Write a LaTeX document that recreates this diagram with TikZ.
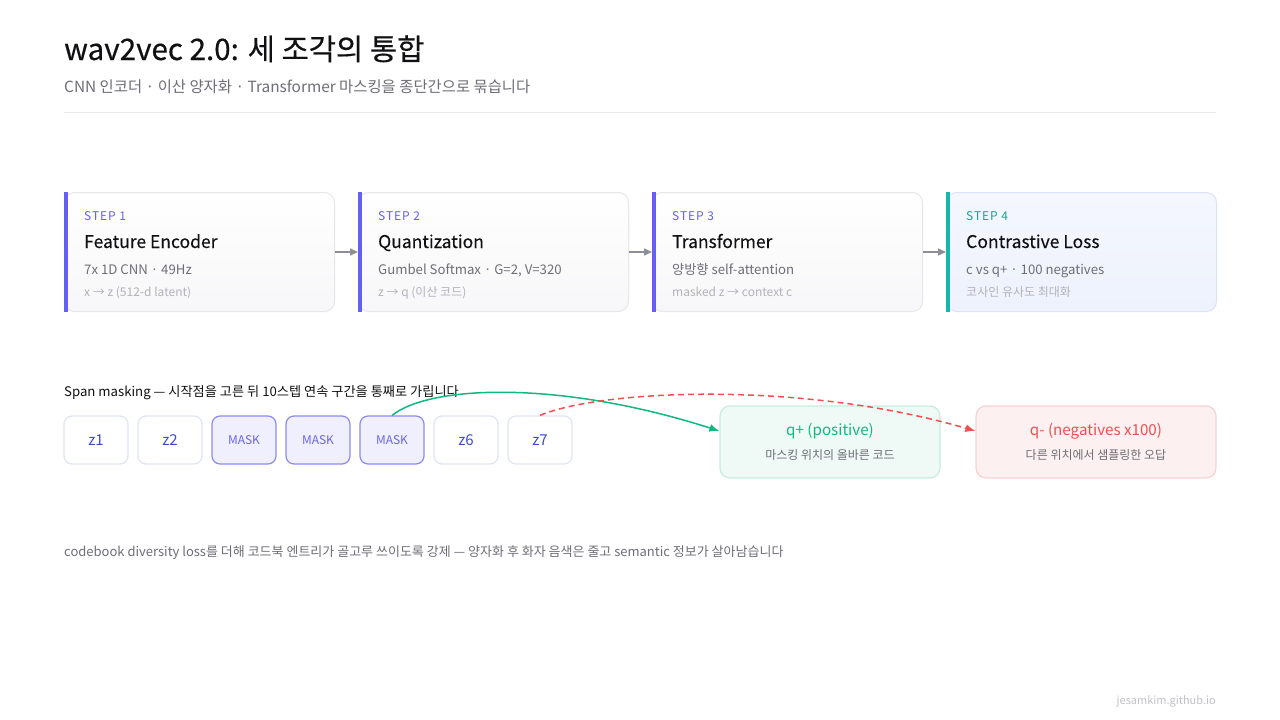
\documentclass[tikz,border=0pt]{standalone}
\usepackage{fontspec}
\setmainfont{Noto Sans CJK KR}
\usetikzlibrary{arrows.meta,calc,positioning}

\definecolor{ink}{HTML}{111114}
\definecolor{subgray}{HTML}{6E6E76}
\definecolor{faint}{HTML}{B2B2BA}
\definecolor{rulegray}{HTML}{EAEAEE}
\definecolor{cardline}{HTML}{E6E6EB}
\definecolor{cardbot}{HTML}{F7F7F9}
\definecolor{accent}{HTML}{6360F2}
\definecolor{tealbar}{HTML}{14B8A6}
\definecolor{tealtxt}{HTML}{16A394}
\definecolor{lossline}{HTML}{DCE2F8}
\definecolor{losstop}{HTML}{F4F7FE}
\definecolor{lossbot}{HTML}{EEF2FD}
\definecolor{flowgray}{HTML}{8E8E96}
\definecolor{tokline}{HTML}{E1E4F5}
\definecolor{tokblue}{HTML}{3B4BD3}
\definecolor{maskfill}{HTML}{F0EFFE}
\definecolor{maskline}{HTML}{8D8AF3}
\definecolor{masktxt}{HTML}{6A66E6}
\definecolor{posgreen}{HTML}{10B981}
\definecolor{posfill}{HTML}{EFFAF6}
\definecolor{posline}{HTML}{C8EDDD}
\definecolor{negred}{HTML}{EF5050}
\definecolor{negfill}{HTML}{FDF0F0}
\definecolor{negline}{HTML}{F6D3D3}

\newcommand{\fs}[1]{\fontsize{#1}{#1}\selectfont}

\begin{document}
\begin{tikzpicture}[x=1pt,y=-1pt,>=Latex,
  card/.style={draw=cardline,line width=1pt,rounded corners=10pt,top color=white,bottom color=cardbot,
    minimum width=270pt,minimum height=119pt,anchor=north west,inner sep=0pt},
  losscard/.style={card,draw=lossline,top color=losstop,bottom color=lossbot},
  bar/.style={line width=3.5pt,accent},
  tag/.style={anchor=base west,inner sep=0pt,text=accent,font=\fs{12}\addfontfeature{LetterSpace=8}},
  head/.style={anchor=base west,inner sep=0pt,text=ink,font=\fs{17.5}\addfontfeature{FakeBold=0.2}},
  detail/.style={anchor=base west,inner sep=0pt,text=subgray,font=\fs{13.2}},
  note/.style={anchor=base west,inner sep=0pt,text=faint,font=\fs{12}},
  flow/.style={->,flowgray,line width=1.5pt,>={Triangle[length=8pt,width=7pt]}},
  tok/.style={draw=tokline,fill=white,line width=1.2pt,rounded corners=8pt,minimum width=64pt,
    minimum height=48pt,inner sep=0pt,text=tokblue,font=\fs{15}},
  masktok/.style={tok,draw=maskline,fill=maskfill,text=masktxt,font=\fs{12}},
  qbox/.style={line width=1.2pt,rounded corners=10pt,minimum height=72pt,inner sep=0pt}]
\useasboundingbox[fill=white] (0,0) rectangle (1280,720);

% header
\node[anchor=base west,inner sep=0pt,text=ink,font=\fs{29.6}\addfontfeature{FakeBold=0.4}] (title) at (64,60) {wav2vec 2.0: 세 조각의 통합};
\node[anchor=base west,inner sep=0pt,text=subgray,font=\fs{15.4}] (subtitle) at (64,92.5)
  {CNN 인코더 · 이산 양자화 · Transformer 마스킹을 종단간으로 묶습니다};
\draw[rulegray,line width=1pt] (64,112) -- (1216,112);

% pipeline cards
\node[card] (s1) at (64,192) {};
\node[card] (s2) at (358,192) {};
\node[card] (s3) at (652,192) {};
\node[losscard] (s4) at (946,192) {};
\draw[bar] ([xshift=1.75pt]s1.north west) -- ([xshift=1.75pt]s1.south west);
\draw[bar] ([xshift=1.75pt]s2.north west) -- ([xshift=1.75pt]s2.south west);
\draw[bar] ([xshift=1.75pt]s3.north west) -- ([xshift=1.75pt]s3.south west);
\draw[bar,tealbar] ([xshift=1.75pt]s4.north west) -- ([xshift=1.75pt]s4.south west);
\draw[flow] (s1.east) -- (s2.west);
\draw[flow] (s2.east) -- (s3.west);
\draw[flow] (s3.east) -- (s4.west);

\node[tag] (s1tag) at ($(s1.north west)+(20,28)$) {STEP 1};
\node[head] (s1head) at ($(s1.north west)+(20,56)$) {Feature Encoder};
\node[detail] (s1det) at ($(s1.north west)+(20,82)$) {7x 1D CNN · 49Hz};
\node[note] (s1note) at ($(s1.north west)+(20,104)$) {x → z (512-d latent)};

\node[tag] (s2tag) at ($(s2.north west)+(20,28)$) {STEP 2};
\node[head] (s2head) at ($(s2.north west)+(20,56)$) {Quantization};
\node[detail] (s2det) at ($(s2.north west)+(20,82)$) {Gumbel Softmax · G=2, V=320};
\node[note] (s2note) at ($(s2.north west)+(20,104)$) {z → q (이산 코드)};

\node[tag] (s3tag) at ($(s3.north west)+(20,28)$) {STEP 3};
\node[head] (s3head) at ($(s3.north west)+(20,56)$) {Transformer};
\node[detail] (s3det) at ($(s3.north west)+(20,82)$) {양방향 self-attention};
\node[note] (s3note) at ($(s3.north west)+(20,104)$) {masked z → context c};

\node[tag,text=tealtxt] (s4tag) at ($(s4.north west)+(20,28)$) {STEP 4};
\node[head] (s4head) at ($(s4.north west)+(20,56)$) {Contrastive Loss};
\node[detail] (s4det) at ($(s4.north west)+(20,82)$) {c vs q+ · 100 negatives};
\node[note] (s4note) at ($(s4.north west)+(20,104)$) {코사인 유사도 최대화};

% span masking
\node[anchor=base west,inner sep=0pt,text=ink,font=\fs{13.2}] (spanlbl) at (64,396)
  {Span masking — 시작점을 고른 뒤 10스텝 연속 구간을 통째로 가립니다};
\node[tok] (z1) at (96,440) {z1};
\node[tok] (z2) at (170,440) {z2};
\node[masktok] (m1) at (244,440) {MASK};
\node[masktok] (m2) at (318,440) {MASK};
\node[masktok] (m3) at (392,440) {MASK};
\node[tok] (z6) at (466,440) {z6};
\node[tok] (z7) at (540,440) {z7};

\node[qbox,draw=posline,fill=posfill,minimum width=220pt] (qpos) at (830,442) {};
\node[text=posgreen,font=\fs{15.2}] (qpostxt) at (830,431) {q+ (positive)};
\node[text=subgray,font=\fs{12}] (qpossub) at (830,455) {마스킹 위치의 올바른 코드};
\node[qbox,draw=negline,fill=negfill,minimum width=240pt] (qneg) at (1096,442) {};
\node[text=negred,font=\fs{15.2}] (qnegtxt) at (1096,431) {q- (negatives x100)};
\node[text=subgray,font=\fs{12}] (qnegsub) at (1096,455) {다른 위치에서 샘플링한 오답};

\draw[->,posgreen,line width=1.5pt,>={Latex[length=10pt,width=8pt]}]
  (m3.north) .. controls (430,385) and (560,380) .. ([yshift=11pt]qpos.west);
\draw[->,negred,line width=1.5pt,dash pattern=on 6pt off 4pt,>={Latex[length=10pt,width=8pt]}]
  (z7.north) .. controls (600,390) and (800,380) .. ([yshift=11pt]qneg.west);

% footer
\node[anchor=base west,inner sep=0pt,text=subgray,font=\fs{13}] (footer) at (64,556)
  {codebook diversity loss를 더해 코드북 엔트리가 골고루 쓰이도록 강제 — 양자화 후 화자 음색은 줄고 semantic 정보가 살아남습니다};
\node[anchor=base east,inner sep=0pt,text=faint!80,font=\fs{11}] (site) at (1216,704) {jesamkim.github.io};
\end{tikzpicture}
\end{document}
